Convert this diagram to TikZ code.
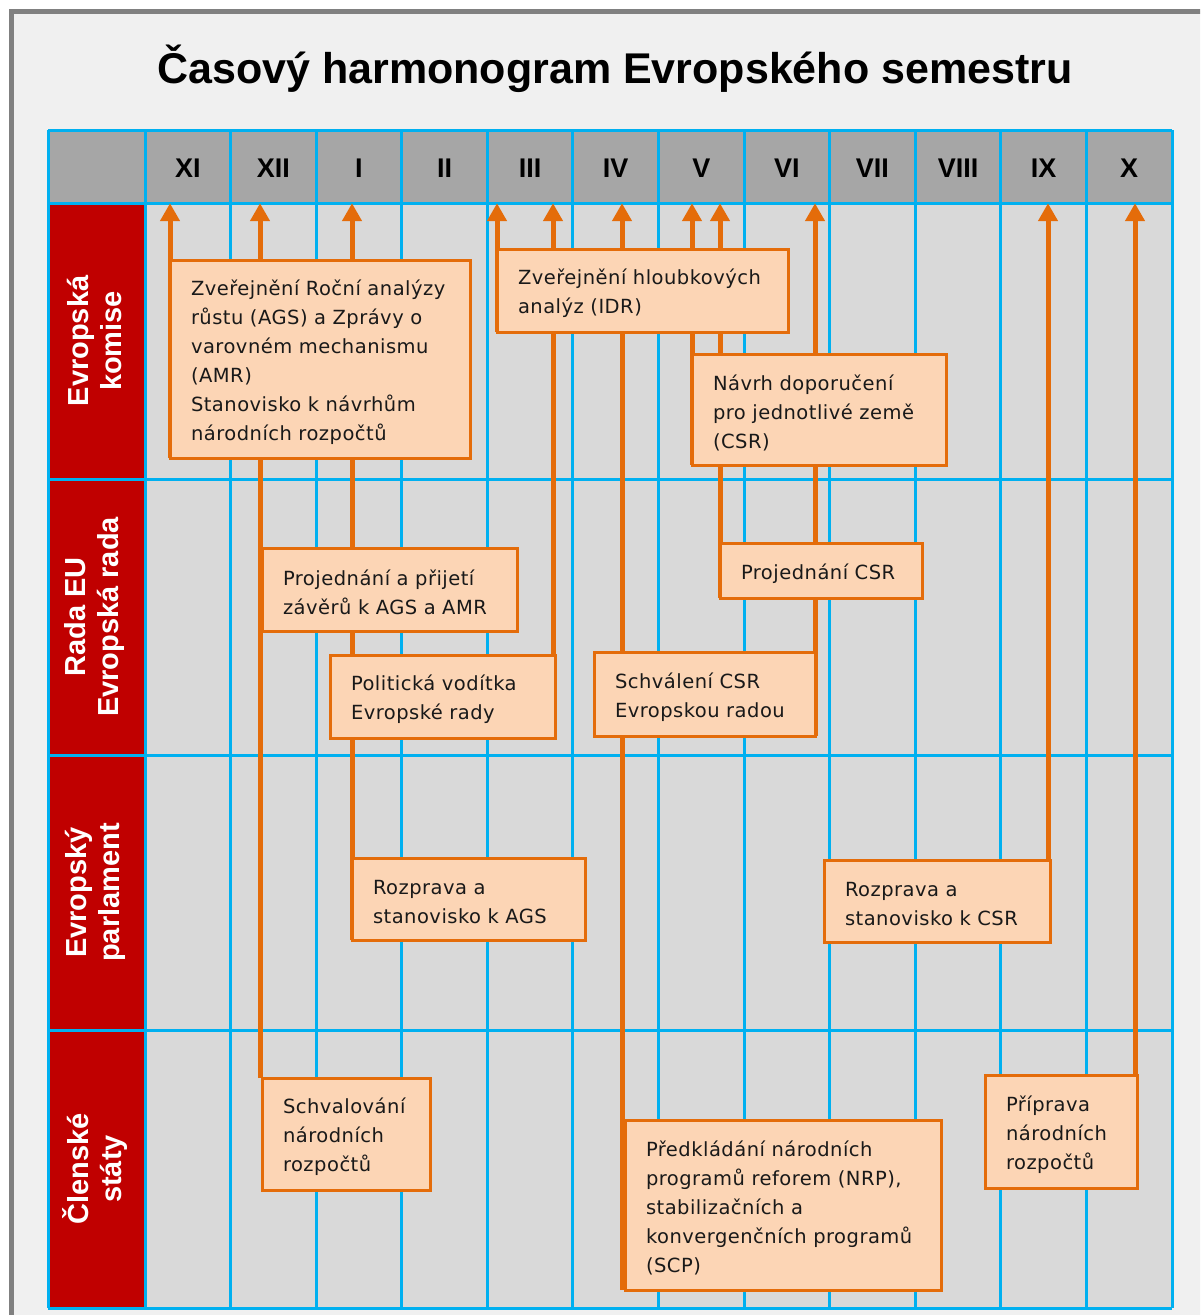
\documentclass[tikz,border=0pt]{standalone}
\usepackage{fontspec}
\setmainfont{Liberation Sans}
\newfontfamily\boxfont[LetterSpace=2.5]{DejaVu Sans}
\newfontfamily\hdrfont{Liberation Sans}
\usetikzlibrary{arrows.meta}
\definecolor{bgc}{HTML}{F0F0F0}
\definecolor{framec}{HTML}{808080}
\definecolor{cellc}{HTML}{D9D9D9}
\definecolor{hdrc}{HTML}{A6A6A6}
\definecolor{gridc}{HTML}{00B0F0}
\definecolor{rowred}{HTML}{C00000}
\definecolor{orgc}{HTML}{E46C0A}
\definecolor{peach}{HTML}{FCD5B5}
\newcommand\mkbox[6]{%
  \pgfmathsetmacro\bxw{#4-#2}%
  \pgfmathsetmacro\bxh{#5-#3}%
  \pgfmathsetmacro\bxt{#4-#2-42}%
  \node[ebox, minimum width=\bxw pt, minimum height=\bxh pt] (#1) at ({(#2+#4)/2},{(#3+#5)/2}) {};
  \node[eboxtext, text width=\bxt pt] (#1t) at ([yshift=-3pt]#1.center) {#6};}
\begin{document}
\begin{tikzpicture}[x=1pt,y=-1pt,
  ebox/.style={draw=orgc, line width=3pt, fill=peach, inner sep=0pt},
  eboxtext/.style={align=left, inner xsep=0pt, inner ysep=0pt,
    font=\boxfont\fontsize{19.5}{29}\selectfont, text=black!90},
  arr/.style={draw=orgc, line width=5pt, -{Triangle[width=19pt,length=18pt]}},
  hdrcell/.style={fill=hdrc, minimum width=85.58pt, minimum height=73pt, inner sep=0pt},
  monthlab/.style={font=\hdrfont\bfseries\fontsize{27}{32}\selectfont, text=black, anchor=base},
  rowlab/.style={rotate=90, align=center, text=white, font=\hdrfont\bfseries\fontsize{29}{33}\selectfont},
  gridline/.style={draw=gridc, line width=3pt}]
\useasboundingbox (0,0) rectangle (1200,1315);
\fill[white] (0,0) rectangle (1200,1315);
\begin{scope}
\clip (0,0) rectangle (1200,1315);
\draw[draw=framec, line width=5pt, fill=bgc] (11,11) rectangle (1215,1330);
\end{scope}
\node[font=\hdrfont\bfseries\fontsize{43}{50}\selectfont, anchor=base] (title) at (615,83) {Časový harmonogram Evropského semestru};
% table backgrounds
\fill[hdrc] (48,130) rectangle (145,203);
\fill[cellc] (145,203) rectangle (1172,1308);
\fill[rowred] (48,203) rectangle (145,1308);
\foreach \lab [count=\i from 0] in {XI,XII,I,II,III,IV,V,VI,VII,VIII,IX,X} {
  \node[hdrcell] (h\i) at ({145+(\i+0.5)*85.583},166.5) {};
  \node[monthlab] (l\i) at ({145+(\i+0.5)*85.583},177) {\lab};
}
% grid
\foreach \i in {0,...,12} { \draw[gridline] ({145+\i*85.583},130) -- ({145+\i*85.583},1308); }
\draw[gridline] (48,130) -- (48,1308);
\foreach \yy in {130,203,479,755,1030,1308} { \draw[gridline] (48,\yy) -- (1172,\yy); }
% row labels
\node[rowlab] (r1) at (95,341) {Evropská\\komise};
\node[rowlab] (r2) at (95,617) {Rada EU\\Evropská rada};
\node[rowlab] (r3) at (95,892.5) {Evropský\\parlament};
\node[rowlab] (r4) at (95,1169) {Členské\\státy};
% arrow start points at the box corners; boxes drawn on top afterwards
\coordinate (cA) at (170,458);
\coordinate (cSNR) at (260,1078);
\coordinate (cRAGS) at (352,940);
\coordinate (cIDR) at (497,332);
\coordinate (cPOL) at (553,738);
\coordinate (cNRP) at (622,1290);
\coordinate (cCSR) at (692,465);
\coordinate (cPCSR) at (720,598);
\coordinate (cSCH) at (815,736);
\coordinate (cRCSR) at (1048,942);
\coordinate (cPNR) at (1135,1188);
\draw[arr] (cA) -- (cA |- h0.south);
\draw[arr] (cSNR) -- (cSNR |- h1.south);
\draw[arr] (cRAGS) -- (cRAGS |- h2.south);
\draw[arr] (cIDR) -- (cIDR |- h4.south);
\draw[arr] (cPOL) -- (cPOL |- h4.south);
\draw[arr] (cNRP) -- (cNRP |- h5.south);
\draw[arr] (cCSR) -- (cCSR |- h6.south);
\draw[arr] (cPCSR) -- (cPCSR |- h6.south);
\draw[arr] (cSCH) -- (cSCH |- h7.south);
\draw[arr] (cRCSR) -- (cRCSR |- h10.south);
\draw[arr] (cPNR) -- (cPNR |- h11.south);
% boxes
\mkbox{A}{170}{260}{470}{458}{Zveřejnění Roční analýzy\\růstu (AGS) a Zprávy o\\varovném mechanismu\\(AMR)\\Stanovisko k návrhům\\národních rozpočtů}
\mkbox{IDR}{497}{249}{788}{332}{Zveřejnění hloubkových\\analýz (IDR)}
\mkbox{CSR}{692}{354}{946}{465}{Návrh doporučení\\pro jednotlivé země\\(CSR)}
\mkbox{PCSR}{720}{543}{922}{598}{Projednání CSR}
\mkbox{PAGS}{262}{548}{517}{631}{Projednání a přijetí\\závěrů k AGS a AMR}
\mkbox{POL}{330}{655}{555}{738}{Politická vodítka\\Evropské rady}
\mkbox{SCH}{594}{652}{815}{736}{Schválení CSR\\Evropskou radou}
\mkbox{RAGS}{352}{858}{585}{940}{Rozprava a\\stanovisko k AGS}
\mkbox{RCSR}{824}{860}{1050}{942}{Rozprava a\\stanovisko k CSR}
\mkbox{SNR}{262}{1078}{430}{1190}{Schvalování\\národních\\rozpočtů}
\mkbox{NRP}{625}{1120}{941}{1290}{Předkládání národních\\programů reforem (NRP),\\stabilizačních a\\konvergenčních programů\\(SCP)}
\mkbox{PNR}{985}{1075}{1137}{1188}{Příprava\\národních\\rozpočtů}
\end{tikzpicture}
\end{document}
